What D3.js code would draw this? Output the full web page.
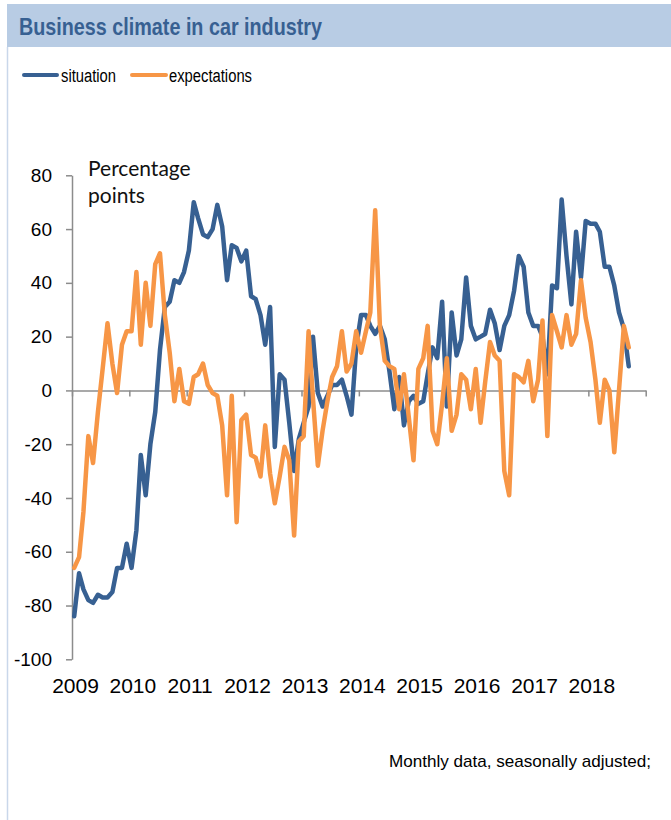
<!DOCTYPE html>
<html>
<head>
<meta charset="utf-8">
<script src="https://cdn.jsdelivr.net/npm/d3@7"></script>
<style>
  body { margin: 0; background: #fff; }
  svg { display: block; }
</style>
</head>
<body>
<div id="myPlot"></div>
<script>
// monthly data, Jan 2009 .. Sep 2018
const situation = [
  -84, -68, -74, -78, -79, -76, -77, -77, -75, -66, -66, -57,
  -66, -52, -24, -39, -20, -8, 15, 31, 33, 41, 40, 44,
  52, 70, 64, 58, 57, 60, 69, 61, 41, 54, 53, 48,
  52, 35, 34, 28, 17, 31, -21, 6, 4, -12, -30, -18,
  -12, -6, 20, -1, -6, -2, 2, 2, 4, -2, -9, 16,
  28, 28, 24, 21, 24, 19, 7, -7, 5, -13, -4, -2,
  -5, -4, 6, 16, 12, 33, -6, 29, 13, 19, 42, 24,
  19, 20, 21, 30, 25, 15, 24, 28, 37, 50, 46, 29,
  24, 24, 20, 6, 39, 38, 71, 50, 32, 59, 42, 63,
  62, 62, 59, 46, 46, 39, 29, 23, 9
];
const expectations = [
  -66, -62, -45, -17, -27, -8, 8, 25, 10, -1, 17, 22,
  22, 44, 17, 40, 24, 47, 51, 28, 14, -4, 8, -4,
  -5, 5, 6, 10, 2, -1, -2, -13, -39, -2, -49, -11,
  -9, -24, -25, -32, -13, -31, -42, -32, -21, -26, -54, -19,
  -17, 22, -3, -28, -15, -4, 5, 9, 22, 7, 10, 22,
  14, 22, 29, 67, 24, 11, 9, 8, -7, 6, -10, -26,
  8, 12, 24, -15, -20, -5, 12, -15, -9, 6, 4, -7,
  8, -12, 3, 18, 13, 11, -30, -39, 6, 5, 3, 11,
  -4, 4, 26, -17, 28, 22, 16, 28, 17, 21, 41, 27,
  18, 4, -12, 4, 0, -23, 0, 24, 16
];
const seriesNames = ['situation', 'expectations'];
const yearLabels = [2009, 2010, 2011, 2012, 2013, 2014, 2015, 2016, 2017, 2018];
const yTicks = [-100, -80, -60, -40, -20, 0, 20, 40, 60, 80];

const colors = { situation: '#376092', expectations: '#f79646' };
const font = '"Liberation Sans", Arial, sans-serif';

const width = 671;
const height = 820;
const plot = { left: 72, right: 645.7, top: 175.3, bottom: 659.3 };

const svg = d3.select('#myPlot')
  .append('svg')
    .attr('width', width)
    .attr('height', height);

// frame + title bar
svg.append('rect')
  .attr('x', 7).attr('y', 4)
  .attr('width', width - 7).attr('height', 43)
  .attr('fill', '#b8cce4');
svg.append('line')
  .attr('x1', 7.5).attr('x2', 7.5)
  .attr('y1', 47).attr('y2', height)
  .attr('stroke', '#c9d7ea')
  .attr('stroke-width', 1.5);
svg.append('text')
  .attr('x', 19).attr('y', 34.5)
  .attr('font-family', font)
  .attr('font-weight', 'bold')
  .attr('font-size', 24)
  .attr('fill', '#376092')
  .attr('textLength', 303)
  .attr('lengthAdjust', 'spacingAndGlyphs')
  .text('Business climate in car industry');

// legend
const legend = [
  { name: 'situation', x1: 24, x2: 57, tx: 61, tl: 55 },
  { name: 'expectations', x1: 132, x2: 166, tx: 169, tl: 83 }
];
legend.forEach(function(l) {
  svg.append('line')
    .attr('x1', l.x1).attr('x2', l.x2)
    .attr('y1', 75).attr('y2', 75)
    .attr('stroke', colors[l.name])
    .attr('stroke-width', 4)
    .attr('stroke-linecap', 'round');
  svg.append('text')
    .attr('x', l.tx).attr('y', 81.5)
    .attr('font-family', font)
    .attr('font-size', 18)
    .attr('fill', '#000')
    .attr('textLength', l.tl)
    .attr('lengthAdjust', 'spacingAndGlyphs')
    .text(l.name);
});

// scales
const start = new Date(2009, 0, 1);
const end = new Date(2019, 0, 1);
const x = d3.scaleTime()
  .domain([start, end])
  .range([plot.left, plot.right]);
const y = d3.scaleLinear()
  .domain([-100, 80])
  .range([plot.bottom, plot.top]);

const dates = situation.map(function(d, i) { return new Date(2009, i, 15); });

// y axis
const yAxis = svg.append('g')
  .attr('transform', 'translate(' + plot.left + ',0)')
  .call(d3.axisLeft(y)
    .tickValues(yTicks)
    .tickSize(6)
    .tickSizeOuter(0)
    .tickPadding(14)
    .tickFormat(function(d) { return String(d); }));
yAxis.selectAll('path, line').attr('stroke', '#8c8c8c').attr('stroke-width', 1.5);
yAxis.selectAll('text')
  .attr('font-family', font)
  .attr('font-size', 19)
  .attr('fill', '#000');

// zero line with year ticks
const xAxis = svg.append('g')
  .attr('transform', 'translate(0,' + y(0) + ')')
  .call(d3.axisBottom(x)
    .ticks(d3.timeYear.every(1))
    .tickSize(6)
    .tickSizeOuter(0)
    .tickFormat(''));
xAxis.selectAll('path, line').attr('stroke', '#8c8c8c').attr('stroke-width', 1.5);

// year labels at the bottom
const xLabels = svg.append('g')
  .attr('transform', 'translate(3,' + (plot.bottom + 17) + ')')
  .call(d3.axisBottom(x)
    .tickValues(yearLabels.map(function(yr) { return new Date(yr, 0, 1); }))
    .tickSize(0)
    .tickPadding(2)
    .tickFormat(d3.timeFormat('%Y')));
xLabels.select('.domain').remove();
xLabels.selectAll('text')
  .attr('font-family', font)
  .attr('font-size', 21)
  .attr('fill', '#000');

// unit label
const unit = svg.append('text')
  .attr('font-family', 'Lato, "Open Sans", sans-serif')
  .attr('font-size', 21)
  .attr('fill', '#111');
unit.append('tspan').attr('x', 88).attr('y', 176).text('Percentage');
unit.append('tspan').attr('x', 88).attr('y', 203).text('points');

// lines
const line = d3.line()
  .x(function(d, i) { return x(dates[i]); })
  .y(function(d) { return y(d); });

const seriesData = { situation: situation, expectations: expectations };
seriesNames.forEach(function(name) {
  svg.append('path')
    .datum(seriesData[name])
    .attr('d', line)
    .attr('fill', 'none')
    .attr('stroke', colors[name])
    .attr('stroke-width', 4.5)
    .attr('stroke-linejoin', 'round')
    .attr('stroke-linecap', 'round');
});

// footnote
svg.append('text')
  .attr('x', 389).attr('y', 767)
  .attr('font-family', font)
  .attr('font-size', 17)
  .attr('fill', '#000')
  .attr('textLength', 262)
  .attr('lengthAdjust', 'spacingAndGlyphs')
  .text('Monthly data, seasonally adjusted;');
</script>
</body>
</html>
